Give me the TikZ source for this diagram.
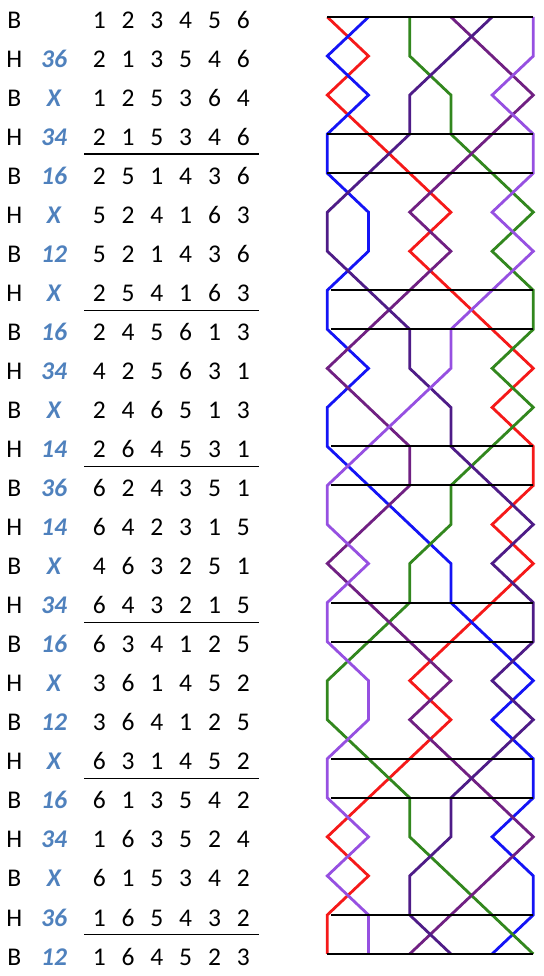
\documentclass[tikz,border=0pt]{standalone}
\usepackage{fontspec}
\setmainfont{Carlito}
\usepackage{xcolor}
\usepackage{tikz}
\definecolor{bellone}{RGB}{245,25,25}
\definecolor{belltwo}{RGB}{20,20,245}
\definecolor{bellthree}{RGB}{50,135,30}
\definecolor{bellfour}{RGB}{112,32,130}
\definecolor{bellfive}{RGB}{78,28,135}
\definecolor{bellsix}{RGB}{150,80,225}
\definecolor{changeblue}{RGB}{79,129,189}
\tikzset{
    rowtext/.style = {anchor=base, inner sep=0pt, font=\fontsize{25.5}{30}\selectfont},
    stroke/.style = {rowtext},
    change/.style = {rowtext, font=\fontsize{25.5}{30}\selectfont\bfseries\itshape, text=changeblue},
    bellno/.style = {rowtext},
    work/.style = {line width=2.8pt},
    lead/.style = {black, line width=2pt},
    rule/.style = {black, line width=1.2pt}
}

\begin{document}
\begin{tikzpicture}[x=1pt, y=-1pt]
    \useasboundingbox (0,0) rectangle (543,976);

    % handstroke / backstroke and place notation
    \foreach \hb/\lab [count=\row from 0] in {B/{}, H/36, B/X, H/34, B/16, H/X, B/12, H/X,
        B/16, H/34, B/X, H/14, B/36, H/14, B/X, H/34, B/16, H/X, B/12, H/X,
        B/16, H/34, B/X, H/36, B/12}
    {
        \node [stroke] (s-\row) at (14.4, 28.3+39.03*\row) {\hb};
        \node [change] (c-\row) at (54, 28.3+39.03*\row) {\lab};
    }

    % rows
    \foreach \bells [count=\row from 0] in {
        {1,2,3,4,5,6}, {2,1,3,5,4,6}, {1,2,5,3,6,4}, {2,1,5,3,4,6},
        {2,5,1,4,3,6}, {5,2,4,1,6,3}, {5,2,1,4,3,6}, {2,5,4,1,6,3},
        {2,4,5,6,1,3}, {4,2,5,6,3,1}, {2,4,6,5,1,3}, {2,6,4,5,3,1},
        {6,2,4,3,5,1}, {6,4,2,3,1,5}, {4,6,3,2,5,1}, {6,4,3,2,1,5},
        {6,3,4,1,2,5}, {3,6,1,4,5,2}, {3,6,4,1,2,5}, {6,3,1,4,5,2},
        {6,1,3,5,4,2}, {1,6,3,5,2,4}, {6,1,5,3,4,2}, {1,6,5,4,3,2},
        {1,6,4,5,2,3}}
    {
        \foreach \bl [count=\pl] in \bells
        {
            \node [bellno] (d-\row-\pl) at (99.3+28.8*\pl-28.8, 28.3+39.03*\row) {\bl};
            \coordinate (p\pl-\row) at (327.3+41.2*\pl-41.2, 17+39.04*\row);
            \coordinate (b\bl-\row) at (p\pl-\row);
        }
    }

    % blue lines
    \foreach \bl/\col in {1/bellone, 2/belltwo, 3/bellthree, 4/bellfour, 5/bellfive, 6/bellsix}
        \draw [work, \col] (b\bl-0) \foreach \row in {1,...,24} { -- (b\bl-\row) };

    % leads
    \foreach \row/\gap in {0/0, 3/0, 4/0, 7/4, 8/4, 11/4, 12/4, 15/4, 16/4, 19/4, 20/4, 23/4, 24/0}
        \draw [lead] ([xshift=\gap pt]p1-\row) -- (p6-\row);

    \foreach \row in {3,7,...,23}
        \draw [rule] ([xshift=-15pt, yshift=-8.6pt]d-\row-1.base) -- ([xshift=16pt, yshift=-8.6pt]d-\row-6.base);
\end{tikzpicture}
\end{document}
